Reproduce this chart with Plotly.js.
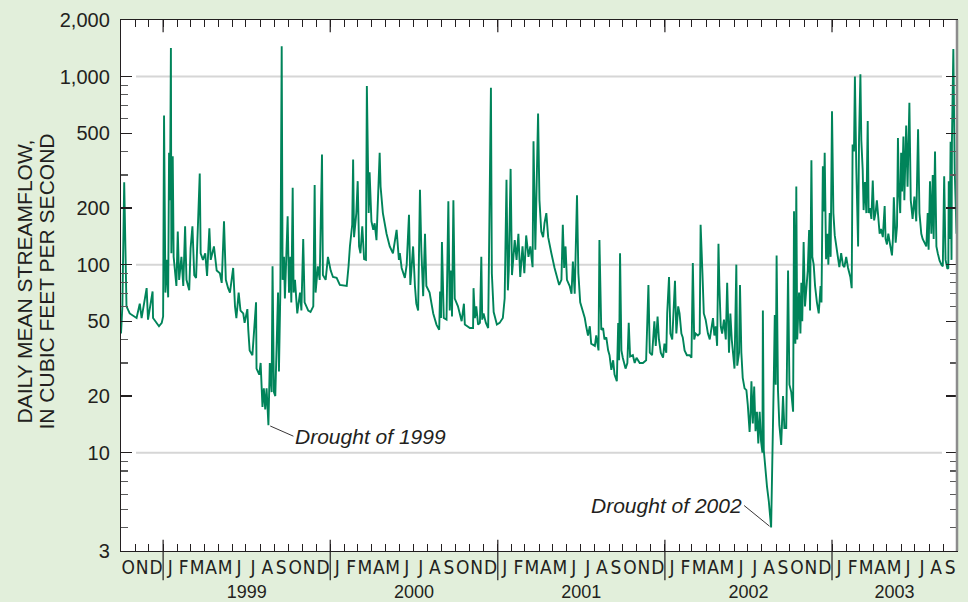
<!DOCTYPE html>
<html>
<head>
<meta charset="utf-8">
<script src="https://cdn.plot.ly/plotly-3.0.1.min.js"></script>
<style>
html,body{margin:0;padding:0;background:#e2efdb;}
#chart{width:968px;height:602px;}
</style>
</head>
<body>
<div id="chart"></div>
<script>
// ---- Data: daily mean streamflow (cfs), days counted from the start date ----
const startDate = '1998-10-01';
const endDate = '2003-10-01';

const wy1999Days = [0,3,7,12,19,34,41,45,56,59,69,70,83,89,92,94,97,100,103,105,107,109,110,113,115,121,124,127,132,136,140,143,149,152,156,160,164,168,172,174,179,184,188,193,196,203,209,216,220,225,229,234,238,245,249,252,257,261,267,270,276,278,281,287,295,296,302,305,309,312,315,318,322,325,329,331,334,337,340,343,345,348,351,353,356,358,364];
const wy1999Flow = [43,60,274,60,55,52,62,52,75,51,72,52,47,49,53,621,71,106,67,393,220,1420,115,377,110,77,150,83,110,77,160,83,73,122,160,88,85,150,305,115,106,115,87,156,106,125,93,90,80,170,83,75,71,96,60,52,71,57,55,49,58,45,35,33,63,28,26,30,17.5,22,17,22,14,30,21,98,21,20,43,71,27,71,1450,83,110,66,181];

const wy2000Days = [367,370,372,375,377,380,385,391,394,398,401,409,414,420,423,425,430,434,439,441,447,452,458,463,471,478,493,497,500,505,507,509,514,517,520,523,527,531,535,537,541,543,547,551,554,558,561,565,567,572,580,587,594,602,607,609,613,620,624,629,632,638,642,645,649,653,656,660,664,667,674,682,689,695,697,699,701,705,711,715,718,721,723,726,729];
const wy2000Flow = [71,110,63,256,71,83,55,71,57,137,63,57,56,60,265,71,98,83,385,88,83,110,93,86,85,78,77,98,125,163,362,140,188,278,125,115,160,107,106,890,188,310,170,153,166,135,220,393,260,188,146,125,115,153,106,115,96,85,100,184,78,125,77,62,57,250,120,68,146,77,71,55,48,45,72,52,132,52,51,217,57,93,53,220,66];

const wy2001Days = [736,744,749,751,762,769,770,773,776,780,784,787,789,792,797,802,805,808,810,814,821,827,834,838,842,845,847,851,854,860,864,868,872,877,881,885,890,894,899,901,905,907,911,914,918,922,925,929,933,940,947,957,962,965,968,971,974,980,984,987,991,996,999,1003,1008,1013,1016,1020,1024,1027,1035,1038,1043,1045,1049,1053,1056,1060,1064,1067,1071,1075,1078,1083,1086,1088,1090,1093];
const wy2001Flow = [60,50,62,48,46,46,75,52,60,48,49,110,51,55,49,46,178,873,90,56,48,49,52,66,283,73,93,323,88,135,106,146,86,125,90,143,110,125,97,453,120,188,637,220,150,140,166,188,140,115,96,78,83,163,96,125,83,77,70,104,70,234,90,63,57,52,47,42,47,38,37,42,35,135,45,46,40,41,35,33,27.6,31,26,24,49,31,115,35];

const wy2002Days = [1096,1102,1106,1109,1112,1118,1122,1126,1133,1140,1147,1152,1155,1160,1165,1168,1172,1175,1179,1184,1187,1191,1193,1197,1200,1204,1210,1213,1217,1220,1224,1227,1231,1236,1242,1246,1249,1252,1255,1260,1264,1266,1270,1273,1277,1282,1286,1289,1293,1296,1299,1302,1305,1307,1310,1313,1317,1321,1324,1328,1331,1334,1336,1340,1344,1346,1350,1352,1355,1358,1362,1366,1369,1373,1375,1377,1380,1383,1386,1389,1392,1395,1398,1401,1402,1404,1411,1415,1420,1424,1426,1428,1430,1432,1435,1438,1442,1446,1449,1453,1457,1460];
const wy2002Flow = [32,28,30,49,32.5,33,30,32,30,30,31,78,34,33,50,37,53,40,34,32,38,34,55,86,43,40,82,43,60,55,43,41,35,33,33,32,102,40,43,42,43,163,90,55,51,43,40,45,52,42,47,37,129,77,47,43,51,40,80,34,55,40,34,28,100,29,34,78,34,25,22,21.5,18,12.9,16,24,14.3,22.5,13,16.5,11.2,16.5,11.5,10,57,10.3,6.6,5.5,4.0,11,26,54,23,112,21.5,14,11,20,13.5,13.5,93,23];

const wy2003Days = [1464,1468,1470,1473,1475,1477,1481,1484,1486,1488,1491,1494,1497,1500,1503,1505,1508,1510,1513,1516,1520,1524,1528,1530,1533,1535,1537,1540,1543,1545,1548,1550,1553,1556,1559,1562,1566,1569,1573,1577,1580,1584,1588,1593,1596,1598,1601,1603,1606,1608,1610,1612,1615,1617,1620,1622,1625,1628,1631,1633,1636,1639,1642,1645,1648,1651,1655,1657,1660,1664,1668,1670,1673,1676,1680,1684,1686,1688,1692,1695,1697,1699,1702,1704,1706,1709,1711,1715,1718,1722,1725,1729,1733,1737,1741,1744,1748,1751,1755,1759,1762,1764,1767,1770,1773,1775,1778,1781,1784,1788,1792,1795,1798,1801,1805,1807,1808,1810,1812,1814,1815,1818,1821,1823,1825];
const wy2003Flow = [21,16.5,192,38,260,40,71,43,80,50,132,60,73,93,153,57,359,110,100,77,63,55,77,63,334,192,393,107,146,100,188,110,655,188,143,125,112,97,115,99,97,110,96,86,75,435,400,1000,330,188,125,460,1030,460,320,195,275,188,580,188,200,175,280,172,188,220,153,146,155,140,205,137,128,146,127,112,137,228,131,160,472,250,188,393,245,480,220,550,260,726,220,175,230,170,525,188,146,137,131,125,188,120,278,146,300,137,400,125,115,105,100,98,295,106,95,96,278,137,450,106,460,1400,320,230,146];

// ---- Axis labels ----
const monthLetters = ['J','F','M','A','M','J','J','A','S','O','N','D'];
const yearLabels = ['1999','2000','2001','2002','2003'];
const yTickVals = [3,10,20,50,100,200,500,1000,2000];
const yTickText = ['3','10','20','50','100','200','500','1,000','2,000'];
const yMinorVals = [4,5,6,7,8,9,30,40,60,70,80,90,300,400,600,700,800,900];
const gridVals = [10,100,1000];
const titleLines = ['DAILY MEAN STREAMFLOW,','IN CUBIC FEET PER SECOND'];
const droughtLabels = ['Drought of 1999','Drought of 2002'];

// ---- Build ----
const DAY = 86400000;
const t0 = Date.UTC(1998,9,1);
const fmt = ms => new Date(ms).toISOString().slice(0,19).replace('T',' ');
const dayToDate = d => fmt(t0 + d*DAY);

const allDays = [].concat(wy1999Days, wy2000Days, wy2001Days, wy2002Days, wy2003Days);
const allFlow = [].concat(wy1999Flow, wy2000Flow, wy2001Flow, wy2002Flow, wy2003Flow);
const xDates = allDays.map(dayToDate);

const monthStarts = [], monthMids = [], monthText = [];
for (let y = 1998, m = 9; y < 2003 || (y === 2003 && m <= 9); ) {
  const s = Date.UTC(y, m, 1);
  let ny = y, nm = m + 1; if (nm > 11) { nm = 0; ny++; }
  const e = Date.UTC(ny, nm, 1);
  monthStarts.push(fmt(s));
  if (!(y === 2003 && m === 9)) {
    monthMids.push(fmt((s + e) / 2));
    monthText.push(monthLetters[m]);
  }
  y = ny; m = nm;
}
const endMs = Date.UTC(2003,9,1);
const yearMids = yearLabels.map(yl => {
  const a = Date.UTC(+yl,0,1), b = Math.min(Date.UTC(+yl+1,0,1), endMs);
  return fmt((a+b)/2);
});

const ink = '#231f20';
const lineGreen = '#00845a';
const baseFont = 'Arial, "Liberation Sans", Helvetica, sans-serif';
const narrowFont = '"Liberation Sans Narrow", "Arial Narrow", "DejaVu Sans Condensed", Arial, sans-serif';

const traces = [
  {x: xDates, y: allFlow, type:'scatter', mode:'lines', line:{color:lineGreen, width:1.9}, xaxis:'x', yaxis:'y', hoverinfo:'skip'},
  {x: [], y: [], type:'scatter', mode:'lines', xaxis:'x2', yaxis:'y', hoverinfo:'skip'},
  {x: [], y: [], type:'scatter', mode:'lines', xaxis:'x3', yaxis:'y', hoverinfo:'skip'}
];

const shapes = [];
gridVals.forEach(v => shapes.push({type:'line', layer:'below', xref:'paper', x0:0.018, x1:0.982, yref:'y', y0:v, y1:v, line:{color:'#d6d6d6', width:2}}));
yearLabels.forEach(yl => {
  const xd = yl + '-01-01';
  shapes.push({type:'line', xref:'x', x0:xd, x1:xd, yref:'paper', y0:-0.055, y1:0.021, line:{color:ink, width:1.2}});
  shapes.push({type:'line', xref:'x', x0:xd, x1:xd, yref:'paper', y0:0.977, y1:1, line:{color:ink, width:1.2}});
});
shapes.push({type:'line', xref:'paper', x0:1, x1:1, yref:'paper', y0:0, y1:1, line:{color:'#8c8c8c', width:2.5}});

const annotations = [];
titleLines.forEach((t, i) => annotations.push({
  xref:'paper', yref:'paper', x: i === 0 ? -0.116 : -0.0885, y:0.5075,
  xanchor:'center', yanchor:'middle', textangle:-90, text:t, showarrow:false,
  font:{family:baseFont, size:21, color:ink}
}));
const droughtSets = [[wy1999Days, wy1999Flow, 25, 11, 'left'], [wy2002Days, wy2002Flow, -27, -22, 'right']];
droughtSets.forEach((s, i) => {
  const [dd, ff, ax, ay, xa] = s;
  let k = 0; ff.forEach((v, j) => { if (v < ff[k]) k = j; });
  annotations.push({
    x: dayToDate(dd[k]), y: Math.log10(ff[k]), xref:'x', yref:'y',
    text:'<i>' + droughtLabels[i] + '</i>', showarrow:true, arrowhead:0, arrowwidth:0.9,
    arrowcolor:ink, ax:ax, ay:ay, xanchor:xa, yanchor:'middle', standoff:2,
    font:{family:baseFont, size:21, color:ink}
  });
});

const layout = {
  width:968, height:602,
  paper_bgcolor:'#e2efdb', plot_bgcolor:'#ffffff',
  margin:{l:121, r:11, t:20, b:51},
  showlegend:false,
  font:{family:baseFont, color:ink},
  xaxis:{type:'date', range:[startDate, endDate], tickmode:'array', tickvals:monthStarts,
    showticklabels:false, ticks:'inside', ticklen:7, tickwidth:1, tickcolor:ink,
    showline:true, linecolor:ink, linewidth:1.2, mirror:'ticks', showgrid:false, zeroline:false, fixedrange:true},
  xaxis2:{type:'date', overlaying:'x', anchor:'y', side:'bottom', range:[startDate, endDate],
    tickmode:'array', tickvals:monthMids, ticktext:monthText, tickangle:0, ticks:'', showline:false, showgrid:false, zeroline:false,
    tickfont:{family:narrowFont, size:19, color:ink}, ticklabelstandoff:3, fixedrange:true},
  xaxis3:{type:'date', overlaying:'x', anchor:'y', side:'bottom', range:[startDate, endDate],
    tickmode:'array', tickvals:yearMids, ticktext:yearLabels, tickangle:0, ticks:'', showline:false, showgrid:false, zeroline:false,
    tickfont:{family:baseFont, size:18, color:ink}, ticklabelstandoff:28, fixedrange:true},
  yaxis:{type:'log', range:[Math.log10(3), Math.log10(2000)], tickmode:'array', tickvals:yTickVals, ticktext:yTickText,
    ticks:'inside', ticklen:11, tickwidth:1.2, tickcolor:ink, showline:true, linecolor:ink, linewidth:1.2, mirror:'ticks',
    showgrid:false, zeroline:false, tickfont:{family:baseFont, size:20, color:ink}, ticklabelstandoff:6, fixedrange:true,
    minor:{tickmode:'array', tickvals:yMinorVals, ticks:'inside', ticklen:7, tickwidth:1.2, tickcolor:'#5a5a5a', showgrid:false}},
  shapes: shapes,
  annotations: annotations
};

Plotly.newPlot('chart', traces, layout, {displayModeBar:false, staticPlot:true});
</script>
</body>
</html>
